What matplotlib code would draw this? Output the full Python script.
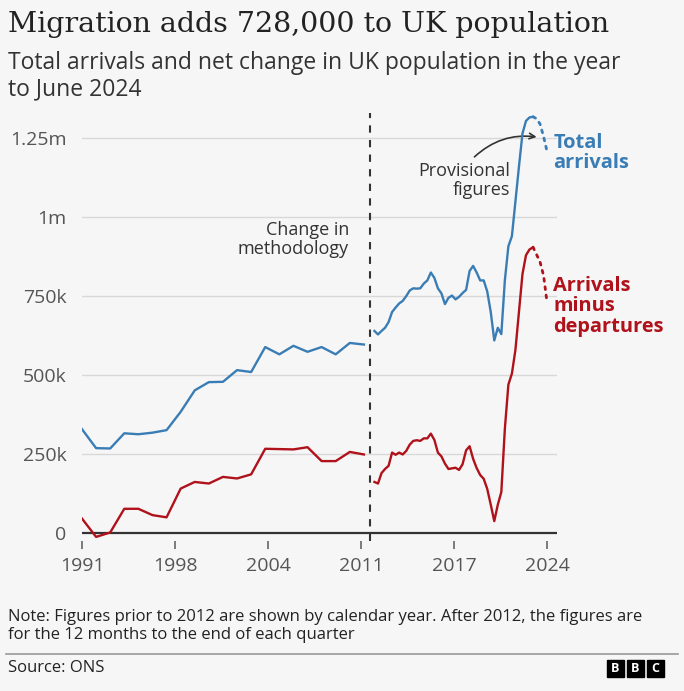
import numpy as np
import matplotlib.pyplot as plt
from matplotlib.patches import Rectangle

# annual figures (calendar year), thousands
years = list(range(1991, 2012))
arrivals_annual = [329, 269, 268, 316, 313, 318, 326, 384, 452, 478, 479,
                   516, 510, 589, 566, 593, 574, 589, 566, 602, 597]
net_annual = [46, -12, 2, 77, 77, 57, 50, 141, 162, 157, 178,
              173, 186, 267, 266, 265, 272, 228, 228, 257, 249]

# quarterly figures (12 months to end of each quarter), thousands
arrivals_q = [640, 629, 640, 650, 668, 700, 714, 727, 735, 750,
              768, 775, 774, 775, 790, 800, 825, 808, 775, 759,
              725, 745, 752, 740, 748, 760, 770, 830, 846, 825,
              800, 800, 765, 700, 610, 650, 630, 800, 908, 940,
              1050, 1160, 1265, 1305, 1316, 1318, 1312, 1295, 1255, 1207]
net_q = [162, 157, 190, 203, 213, 255, 248, 255, 249, 260,
         280, 292, 294, 292, 300, 300, 315, 295, 255, 243,
         220, 203, 205, 207, 200, 218, 262, 275, 235, 206,
         184, 172, 140, 90, 38, 90, 130, 330, 470, 505,
         580, 700, 820, 880, 898, 905, 882, 858, 815, 728]
n_provisional = 4

tick_labels = ['1991', '1998', '2004', '2011', '2017', '2024']
ytick_vals = [0, 250, 500, 750, 1000, 1250]
ytick_labels = ['0', '250k', '500k', '750k', '1m', '1.25m']

blue = '#3a7db5'
red = '#b0121b'
sans = ['Open Sans', 'DejaVu Sans']

qx = 2011.75 + 0.25 * np.arange(len(arrivals_q))
cut = len(arrivals_q) - 1 - n_provisional

fig = plt.figure(figsize=(6.84, 6.91), dpi=100, facecolor='#f6f6f6')
ax = fig.add_axes([82 / 684, 1 - 540.7 / 691, 475 / 684, 427.7 / 691])
ax.set_facecolor('#f6f6f6')

ax.set_xlim(1991, 2024.7)
ax.set_ylim(-24, 1330)

for v in ytick_vals[1:]:
    ax.axhline(v, color='#d8d8d8', lw=1, zorder=1)
ax.axhline(0, color='#333333', lw=1.6, zorder=3)
ax.axvline(2011.4, color='#333333', lw=1.5, ls=(0, (3.5, 3.5)), zorder=2)

ax.plot(years, arrivals_annual, color=blue, lw=1.7, zorder=4)
ax.plot(years, net_annual, color=red, lw=1.7, zorder=4)
ax.plot(qx[:cut + 1], arrivals_q[:cut + 1], color=blue, lw=1.7, zorder=4)
ax.plot(qx[:cut + 1], net_q[:cut + 1], color=red, lw=1.7, zorder=4)
ax.plot(qx[cut:], arrivals_q[cut:], color=blue, lw=2, ls=(0, (1, 2)),
        dash_capstyle='round', zorder=4)
ax.plot(qx[cut:], net_q[cut:], color=red, lw=2, ls=(0, (1, 2)),
        dash_capstyle='round', zorder=4)

for s in ax.spines.values():
    s.set_visible(False)
ax.set_xticks(np.linspace(1991, 2024, 6))
ax.set_xticklabels(tick_labels, family=sans, fontsize=14, color='#555555')
ax.set_yticks(ytick_vals)
ax.set_yticklabels(ytick_labels, family=sans, fontsize=14, color='#555555')
ax.tick_params(axis='x', length=6, width=1.2, color='#666666', pad=6)
ax.tick_params(axis='y', length=0, pad=11)

ax.text(2009.95, 930, 'Change in\nmethodology', ha='right', va='center',
        family=sans, fontsize=13, color='#333333', linespacing=1.1)
ax.text(2021.38, 1117, 'Provisional\nfigures', ha='right', va='center',
        family=sans, fontsize=13, color='#333333', linespacing=1.1)
ax.annotate('', xy=(2023.45, 1253), xytext=(2018.7, 1185),
            arrowprops=dict(arrowstyle='->', color='#333333', lw=1.2,
                            connectionstyle='arc3,rad=-0.25'))
ax.text(2024.43, 1203, 'Total\narrivals', ha='left', va='center',
        family=sans, fontsize=14.4, fontweight='bold', color=blue,
        linespacing=1.05, clip_on=False)
ax.text(2024.43, 718, 'Arrivals\nminus\ndepartures', ha='left', va='center',
        family=sans, fontsize=14.4, fontweight='bold', color=red,
        linespacing=1.05, clip_on=False)

fig.text(8 / 684, 1 - 25 / 691, 'Migration adds 728,000 to UK population',
         family='DejaVu Serif', fontsize=20.5, color='#222222', va='center')
fig.text(8 / 684, 1 - 76 / 691,
         'Total arrivals and net change in UK population in the year\nto June 2024',
         family=sans, fontsize=16.5, color='#333333', va='center', linespacing=1.15)
fig.text(8 / 684, 1 - 626 / 691,
         'Note: Figures prior to 2012 are shown by calendar year. After 2012, the figures are\n'
         'for the 12 months to the end of each quarter',
         family=sans, fontsize=12, color='#222222', va='center', linespacing=1.2)
fig.add_artist(plt.Line2D([6 / 684, 678 / 684], [1 - 654 / 691] * 2,
                          color='#999999', lw=1.2))
fig.text(8 / 684, 1 - 668 / 691, 'Source: ONS', family=sans, fontsize=12,
         color='#222222', va='center')

for i, letter in enumerate('BBC'):
    x0 = 607 + i * 20
    fig.add_artist(Rectangle((x0 / 684, 1 - 677 / 691), 17 / 684, 17 / 691,
                             color='black'))
    fig.text((x0 + 8.5) / 684, 1 - 668.5 / 691, letter, color='white',
             fontsize=9, fontweight='bold', ha='center', va='center',
             family=sans)

fig.savefig('out.png', dpi=100, facecolor=fig.get_facecolor())
